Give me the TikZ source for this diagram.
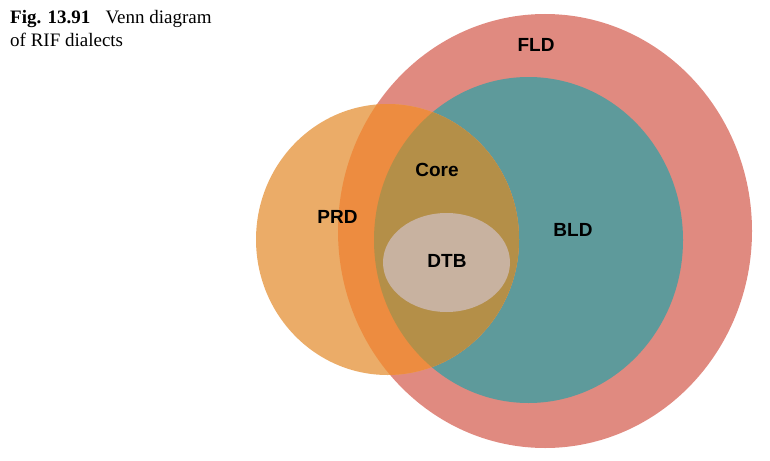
\documentclass[tikz,border=0pt]{standalone}
\usepackage{fontspec}
\setmainfont{Liberation Serif}
\newfontfamily\labelfont{Liberation Sans}
\definecolor{fldc}{RGB}{224,138,128}
\definecolor{bldc}{RGB}{94,154,155}
\definecolor{prdc}{RGB}{235,172,104}
\definecolor{prdfldc}{RGB}{237,140,64}
\definecolor{corec}{RGB}{180,143,72}
\definecolor{dtbc}{RGB}{200,178,160}
\tikzset{
  setlabel/.style={font=\labelfont\bfseries\fontsize{19}{22}\selectfont, text=black, inner sep=0pt, anchor=center},
}
\begin{document}
\begin{tikzpicture}[x=1pt,y=-1pt]
\useasboundingbox (0,0) rectangle (770,460);
% sets
\fill[fldc] (545,231) ellipse [x radius=207pt, y radius=217pt];
\fill[bldc] (528.5,240) ellipse [x radius=154.5pt, y radius=163pt];
\fill[prdc] (387.5,239.5) ellipse [x radius=131.5pt, y radius=135.5pt];
\begin{scope}
  \clip (387.5,239.5) ellipse [x radius=131.5pt, y radius=135.5pt];
  \fill[prdfldc] (545,231) ellipse [x radius=207pt, y radius=217pt];
  \fill[corec] (528.5,240) ellipse [x radius=154.5pt, y radius=163pt];
\end{scope}
\fill[dtbc] (446.5,262.5) ellipse [x radius=63.5pt, y radius=49.5pt];
% labels
\node[setlabel] (fld) at (536,44.5) {FLD};
\node[setlabel] (bld) at (573,230) {BLD};
\node[setlabel] (prd) at (337.5,216.5) {PRD};
\node[setlabel] (core) at (437,170) {Core};
\node[setlabel] (dtb) at (447,261) {DTB};
% caption
\node[anchor=base west, inner sep=0pt, align=left, font=\fontsize{19}{23}\selectfont] (caption) at (10,47)
  {\textbf{Fig. 13.91}\hspace{0.8em}Venn diagram\\of RIF dialects};
\end{tikzpicture}
\end{document}
